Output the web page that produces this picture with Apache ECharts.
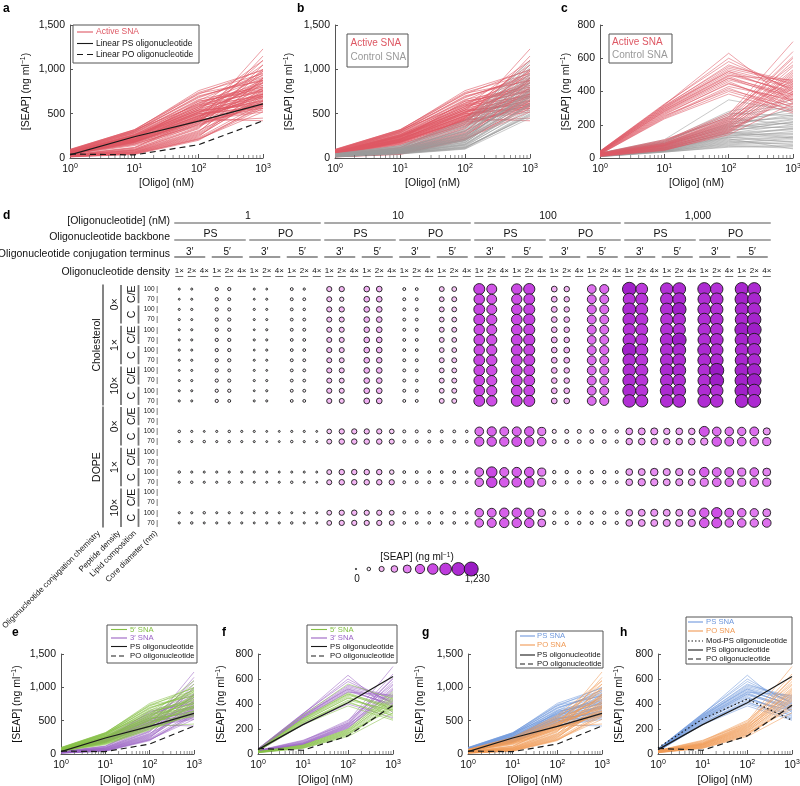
<!DOCTYPE html>
<html>
<head>
<meta charset="utf-8">
<script src="https://cdn.jsdelivr.net/npm/echarts@6/dist/echarts.min.js"></script>
<style>
  html, body { margin: 0; padding: 0; background: #fff; }
  #chart { width: 800px; height: 786px; }
</style>
</head>
<body>
<div id="chart"></div>
<script>
const FONT = '"Liberation Sans", Arial, sans-serif'

// x positions of every curve (nM)
const concentrations = [1, 10, 100, 1000]

// experiment 1, active SNAs: [1, 10, 100, 1000 nM] -> SEAP (ng/ml)
const ps5Lines1 = [
  [62,255,560,720],[70,270,610,850],[85,300,680,930],[58,240,520,640],[90,310,760,990],
  [75,285,640,780],[66,262,590,700],[80,295,700,880],[95,320,720,1000],[60,248,540,600],
  [72,278,620,820],[88,305,690,910],[68,265,575,760],[78,290,650,960],[55,235,500,560],
  [84,300,730,870],[92,315,600,750],[64,258,540,690],[74,282,660,800],[98,318,740,950]
]
const ps3Lines1 = [
  [42,185,430,560],[55,210,480,650],[48,200,520,720],[65,240,600,800],[38,175,420,520],
  [52,220,470,610],[60,230,560,880],[45,195,450,590],[58,250,510,700],[50,205,640,760],
  [40,180,440,420],[62,245,580,840],[47,215,490,680],[56,225,530,620],[44,190,460,740],
  [68,260,620,900],[53,212,500,580],[49,202,475,660],[59,238,545,780],[41,188,425,540]
]
const po5Lines1 = [
  [45,150,380,600],[55,180,430,720],[62,210,500,850],[48,170,400,650],[70,240,560,980],
  [52,165,410,450],[58,200,470,780],[66,230,540,1050],[42,140,360,620],[60,190,450,700],
  [50,175,420,900],[64,220,520,820],[46,155,390,580],[68,250,580,1100],[54,185,440,760],
  [57,195,480,680],[63,215,510,940],[49,160,370,640],[61,205,460,870],[53,178,430,730]
]
const po3Lines1 = [
  [15,45,210,560],[22,60,250,700],[30,80,300,850],[18,55,230,620],[35,100,350,980],
  [25,70,280,760],[12,40,200,600],[28,90,330,1050],[20,65,260,680],[38,120,420,1230],
  [16,50,220,580],[32,95,380,1150],[24,75,290,900],[27,85,310,640],[19,58,240,800],
  [34,110,400,1000],[14,48,215,520],[29,88,340,880],[23,68,270,720],[36,115,450,1100]
]
const controlLines1 = [
  [20,60,150,600],[30,80,200,750],[15,55,120,480],[40,110,300,900],[25,70,180,650],
  [35,95,260,820],[18,50,110,520],[45,130,380,1050],[22,65,170,700],[28,85,220,780],
  [12,45,100,450],[38,105,320,950],[32,90,240,860],[26,75,190,680],[42,120,350,1000],
  [16,58,130,560],[24,68,160,620],[36,100,280,880],[30,88,230,740],[48,140,420,1100],
  [20,62,145,590],[34,92,250,800],[14,52,115,500],[40,115,310,930],[27,78,200,710],
  [33,98,270,840],[19,60,140,540],[44,125,360,1020],[23,72,175,660],[29,82,210,770],
  [17,54,125,470],[37,102,300,910],[31,86,235,720],[25,76,195,690],[46,135,400,1080],
  [21,64,155,610],[35,96,265,850],[13,48,105,490],[39,112,330,960],[28,80,215,760]
]
const psOligo1 = [35, 240, 415, 610]
const poOligo1 = [45, 35, 150, 420]

// experiment 2
const ps5Lines2 = [
  [30,280,480,380],[25,250,430,350],[28,270,460,300],[38,310,560,440],[30,285,490,360],[27,260,450,320],
  [31,275,470,370],[24,245,420,280],[29,265,445,340],[26,255,410,310],[32,280,480,350],[23,235,385,270]
]
const ps3Lines2 = [
  [35,300,520,420],[40,320,630,330],[33,290,500,400],[22,240,400,290],[36,305,540,450],[42,325,580,410],
  [34,295,510,390],[39,315,550,460],[37,300,530,430],[41,320,600,400],[35,290,495,470],[38,310,520,380]
]
const po5Lines2 = [
  [15,60,180,450],[10,45,150,380],[18,65,190,480],[12,50,160,400],[16,62,175,430],[14,55,170,360],
  [19,70,200,500],[11,48,140,330],[17,68,185,440],[13,52,155,390],[18,72,195,460],[15,58,165,420]
]
const po3Lines2 = [
  [20,75,210,520],[25,90,240,600],[22,80,220,550],[28,100,260,700],[24,85,230,580],[26,95,250,640],
  [21,78,215,470],[27,105,270,560],[23,82,225,530],[29,110,245,610],[20,76,205,510],[25,88,235,490]
]
const controlLines2 = [
  [10,40,90,120],[15,55,130,180],[20,70,160,220],[12,45,100,80],[25,85,200,260],
  [18,60,140,150],[8,35,70,60],[22,80,180,300],[14,50,120,140],[28,100,280,350],
  [16,58,150,200],[11,42,85,100],[24,90,220,240],[19,65,170,190],[9,38,75,70],
  [26,95,250,310],[13,48,110,130],[21,75,190,210],[17,62,145,170],[30,110,350,280],
  [12,44,95,110],[23,82,205,250],[15,54,125,160],[27,98,260,330],[10,40,80,90],
  [20,72,175,230],[18,64,155,120],[25,88,230,270],[14,50,115,55],[22,78,195,180],
  [16,56,135,145],[29,105,240,200],[11,46,105,125],[24,86,210,290],[19,68,165,215],
  [13,52,125,95],[26,92,270,255],[17,60,150,175],[21,74,185,235],[9,36,65,75]
]
const psOligo2 = [35, 235, 410, 620]
const poOligo2 = [45, 30, 145, 390]
const modPsOligo2 = [50, 280, 440, 270]

// panel d: column / row hierarchy
const concLabels = ['1', '10', '100', '1,000']
const backbones = ['PS', 'PO']
const termini = ['3′', '5′']
const densities = ['1×', '2×', '4×']
const lipids = ['Cholesterol', 'DOPE']
const peptideDensities = ['0×', '1×', '10×']
const chemistries = ['C/E', 'C']
const coreSizes = ['100', '70']
const rowLevelNames = ['Oligonucleotide conjugation chemistry', 'Peptide density', 'Lipid composition', 'Core diameter (nm)']

// cholesterol rows: per concentration PS3'(1x,2x) PS5'(1x,2x) PO3'(1x,2x) PO5'(1x,2x)
const cholRows = [
  [30,30,110,110,30,20,85,45, 270,280,320,320,90,80,250,240, 880,760,820,900,330,300,620,660, 1180,960,1050,1080,1100,1040,1120,1100],
  [20,30,110,90,20,30,85,80, 260,200,320,320,90,80,240,250, 820,740,800,860,330,300,640,640, 1000,1000,1040,1100,1060,1060,1160,1130],
  [30,40,110,100,35,30,80,60, 270,280,320,320,85,80,250,240, 860,760,820,880,340,300,660,650, 1100,980,1060,1180,1080,1040,1120,1110],
  [35,30,110,110,30,30,80,80, 260,260,320,320,85,80,240,240, 860,780,840,900,330,320,640,640, 1060,1000,1020,1060,1070,1070,1110,1150],
  [30,35,110,110,20,35,85,85, 260,260,310,320,85,85,250,250, 820,760,840,880,320,310,650,640, 1020,980,1040,1040,1060,1060,1200,1200],
  [30,35,110,110,35,35,80,80, 260,260,320,320,85,85,250,240, 840,780,860,900,340,310,620,640, 1040,980,1080,1200,1060,1080,1140,1130],
  [35,30,110,110,20,35,80,80, 270,260,320,320,85,80,240,240, 820,780,860,880,320,330,640,660, 1180,1000,1060,1100,1100,1060,1100,1120],
  [30,35,110,110,30,30,85,80, 260,250,320,310,85,85,250,250, 860,800,860,880,330,330,640,650, 1060,980,1060,1080,1080,1080,1120,1100],
  [20,30,110,90,30,20,80,80, 270,260,320,320,85,80,240,240, 840,800,860,860,330,310,640,660, 1060,1000,1100,1100,1060,1230,1160,1160],
  [30,35,110,100,35,35,80,75, 260,250,320,320,85,70,250,250, 840,780,860,860,320,310,650,650, 1080,1000,1060,1060,1060,1200,1160,1200],
  [30,30,110,110,20,35,85,80, 270,260,320,320,85,85,240,250, 840,780,840,860,330,320,640,650, 1100,1000,1100,1080,1080,1050,1180,1120],
  [35,30,110,90,30,35,80,80, 270,260,330,320,85,85,250,250, 860,800,860,880,330,320,640,660, 1060,1000,1060,1080,1080,1060,1100,1100]
]
// DOPE rows (C only) for peptide 0x/1x/10x and core 100/70, all 48 columns
const dopeRows = [
  [60,35,20,35,55,35,35,20,20,35,35,20, 230,280,280,280,280,230, 90,90,80,80,80,60, 620,680,640,660,700,560, 180,170,170,160,150,120, 420,440,450,380,420,400, 760,620,600,580,640,460],
  [35,35,55,35,55,35,30,20,20,55,35,30, 250,300,300,300,300,260, 90,80,80,80,80,60, 680,700,680,740,700,620, 170,170,150,150,150,110, 400,420,420,380,400,420, 480,700,640,620,600,560],
  [55,35,30,35,35,35,35,35,25,30,30,25, 250,300,300,300,300,220, 80,80,75,75,80,55, 620,820,660,700,720,560, 120,120,110,120,120,90, 420,440,500,460,480,400, 700,640,640,560,620,540],
  [35,55,35,35,45,35,30,25,30,55,30,20, 260,300,300,300,300,280, 80,80,80,80,80,60, 600,820,720,720,740,560, 120,110,110,110,110,80, 420,480,480,440,460,440, 560,620,600,560,600,560],
  [35,35,55,30,35,35,30,35,30,30,25,30, 240,280,300,280,280,240, 75,75,70,70,70,60, 600,640,700,700,680,520, 110,110,110,110,110,100, 420,440,460,440,440,500, 700,800,640,600,580,540],
  [35,55,30,35,35,35,25,35,35,55,35,30, 240,280,280,280,280,250, 75,70,70,70,70,60, 600,660,700,700,700,540, 120,120,120,110,110,110, 420,440,440,460,460,480, 720,760,600,600,580,620]
]
const seapLegend = [0, 137, 273, 410, 547, 683, 820, 957, 1093, 1230]
const seapColors = ['#ffffff', '#fcf0fc', '#f4baf4', '#eda0f3', '#e380f0', '#d862eb', '#cb4ae4', '#bd3adc', '#ad2bd2', '#9a1cc4']

// colours
const RED = '#de5864', GREY = '#9a9a9a', GREEN = '#86c046', PURPLE = '#9b63c4', BLUE = '#6f98dc', ORANGE = '#f09a55'

const fmt = v => v.toLocaleString('en-US')
const bubbleSize = v => 1.4 + 12.6 * Math.pow(v / 1230, 0.8)

// ---------- line panels ----------
const lineGrids = [
  { left: 70, top: 25, width: 193, height: 133, ymax: 1500, nameGap: 37, xGap: 20 },
  { left: 335, top: 25, width: 195, height: 133, ymax: 1500, nameGap: 39, xGap: 20 },
  { left: 600, top: 25, width: 193, height: 133, ymax: 800, nameGap: 27, xGap: 20 },
  { left: 61, top: 654, width: 133, height: 100, ymax: 1500, nameGap: 37, xGap: 21 },
  { left: 258, top: 654, width: 135, height: 100, ymax: 800, nameGap: 30, xGap: 21 },
  { left: 468, top: 654, width: 134, height: 100, ymax: 1500, nameGap: 41, xGap: 21 },
  { left: 658, top: 654, width: 134, height: 100, ymax: 800, nameGap: 32, xGap: 21 }
]
const minorTicks = [2,3,4,5,6,7,8,9,20,30,40,50,60,70,80,90,200,300,400,500,600,700,800,900]

const grids = [], xAxes = [], yAxes = [], series = []

lineGrids.forEach((p, gi) => {
  grids.push({ left: p.left, top: p.top, width: p.width, height: p.height, outerBoundsMode: 'none' })
  xAxes.push({
    gridIndex: gi, type: 'log', logBase: 10, min: 1, max: 1000,
    name: '[Oligo] (nM)', nameLocation: 'middle', nameGap: p.xGap,
    nameTextStyle: { fontSize: 10.5, color: '#111', fontFamily: FONT },
    axisLine: { lineStyle: { color: '#555', width: 1 } },
    axisTick: { inside: true, length: 4, lineStyle: { color: '#555' } },
    splitLine: { show: false },
    axisLabel: {
      margin: 5, color: '#111', fontFamily: FONT, showMinLabel: true, showMaxLabel: true,
      formatter: v => '{b|10}{e|' + Math.round(Math.log10(v)) + '}',
      rich: {
        b: { fontSize: 10.5, fontFamily: FONT, color: '#111', lineHeight: 13 },
        e: { fontSize: 7, fontFamily: FONT, color: '#111', verticalAlign: 'top' }
      }
    }
  })
  yAxes.push({
    gridIndex: gi, type: 'value', min: 0, max: p.ymax, interval: p.ymax === 800 ? 200 : 500,
    name: '[SEAP] (ng ml{s|−1})', nameLocation: 'middle', nameRotate: 90, nameGap: p.nameGap,
    nameTextStyle: { fontSize: 10.5, color: '#111', fontFamily: FONT, lineHeight: 13,
      rich: { s: { fontSize: 7, fontFamily: FONT, color: '#111', verticalAlign: 'top' } } },
    axisLine: { show: true, lineStyle: { color: '#555', width: 1 } },
    axisTick: { show: true, inside: true, length: 3, lineStyle: { color: '#555' } },
    splitLine: { show: false },
    axisLabel: { margin: 5, fontSize: 10.5, color: '#111', fontFamily: FONT, formatter: v => fmt(v) }
  })
  series.push({
    type: 'scatter', xAxisIndex: gi, yAxisIndex: gi, silent: true, animation: false, clip: false, z: 3,
    data: minorTicks.map(t => [t, 0]), symbol: 'rect', symbolSize: [0.8, 3], symbolOffset: [0, -1.5],
    itemStyle: { color: '#555' }
  })
})

function linesSeries (gi, lines, color, opacity) {
  return {
    type: 'lines', coordinateSystem: 'cartesian2d', xAxisIndex: gi, yAxisIndex: gi,
    polyline: true, silent: true, animation: false, z: 2,
    lineStyle: { color, opacity, width: 0.9 },
    data: lines.map(v => ({ coords: concentrations.map((c, i) => [c, v[i]]) }))
  }
}
function oligoSeries (gi, vals, type) {
  return {
    type: 'line', xAxisIndex: gi, yAxisIndex: gi, silent: true, animation: false, z: 5,
    symbol: 'none', data: concentrations.map((c, i) => [c, vals[i]]),
    lineStyle: { color: '#1a1a1a', width: 1.2, type }
  }
}
const active1 = [...ps5Lines1, ...ps3Lines1, ...po5Lines1, ...po3Lines1]
const active2 = [...ps5Lines2, ...ps3Lines2, ...po5Lines2, ...po3Lines2]

// a
series.push(linesSeries(0, active1, RED, 0.65), oligoSeries(0, psOligo1, 'solid'), oligoSeries(0, poOligo1, [6, 4]))
// b
series.push(linesSeries(1, active1, RED, 0.65), linesSeries(1, controlLines1, GREY, 0.6))
// c
series.push(linesSeries(2, controlLines2, GREY, 0.6), linesSeries(2, active2, RED, 0.6))
// e
series.push(linesSeries(3, [...ps3Lines1, ...po3Lines1], PURPLE, 0.6), linesSeries(3, [...ps5Lines1, ...po5Lines1], GREEN, 0.6),
  oligoSeries(3, psOligo1, 'solid'), oligoSeries(3, poOligo1, [6, 4]))
// f
series.push(linesSeries(4, [...ps3Lines2, ...po3Lines2], PURPLE, 0.6), linesSeries(4, [...ps5Lines2, ...po5Lines2], GREEN, 0.6),
  oligoSeries(4, psOligo2, 'solid'), oligoSeries(4, poOligo2, [6, 4]))
// g
series.push(linesSeries(5, [...ps5Lines1, ...ps3Lines1], BLUE, 0.6), linesSeries(5, [...po5Lines1, ...po3Lines1], ORANGE, 0.6),
  oligoSeries(5, psOligo1, 'solid'), oligoSeries(5, poOligo1, [6, 4]))
// h
series.push(linesSeries(6, [...ps5Lines2, ...ps3Lines2], BLUE, 0.6), linesSeries(6, [...po5Lines2, ...po3Lines2], ORANGE, 0.6),
  oligoSeries(6, modPsOligo2, [1.5, 2.5]), oligoSeries(6, psOligo2, 'solid'), oligoSeries(6, poOligo2, [6, 4]))

// ---------- panel d bubble matrix ----------
const dLeft = 173, dTop = 284, dColW = 12.5, dRowH = 244 / 24
const colX = i => dLeft + dColW * (i + 0.5)
const rowY = r => dTop + dRowH * (r + 0.5)

const colNames = [], rowNames = []
concLabels.forEach(c => backbones.forEach(b => termini.forEach(t => densities.forEach(d => colNames.push([c, b, t, d].join('|'))))))
lipids.forEach(l => peptideDensities.forEach(p => chemistries.forEach(ch => coreSizes.forEach(s => rowNames.push([l, p, ch, s].join('|'))))))

const bubbleData = []
cholRows.forEach((vals, r) => {
  vals.forEach((v, k) => {
    const block = Math.floor(k / 2), di = k % 2
    bubbleData.push([block * 3 + di, r, v])
  })
})
dopeRows.forEach((vals, j) => {
  const r = 12 + Math.floor(j / 2) * 4 + 2 + (j % 2)
  vals.forEach((v, c) => bubbleData.push([c, r, v]))
})
bubbleData.sort((p, q) => p[1] - q[1])

const bubbleGrid = grids.length
grids.push({ left: dLeft, top: dTop, width: dColW * 48, height: dRowH * 24, outerBoundsMode: 'none' })
xAxes.push({
  gridIndex: bubbleGrid, type: 'category', position: 'top', data: colNames,
  axisLine: { show: false }, axisTick: { show: false }, splitLine: { show: false },
  axisLabel: { interval: 0, margin: 9, fontSize: 8, color: '#111', fontFamily: FONT, formatter: (v, i) => densities[i % 3] }
})
yAxes.push({
  gridIndex: bubbleGrid, type: 'category', inverse: true, data: rowNames,
  axisLine: { show: false }, axisTick: { show: false }, splitLine: { show: false },
  axisLabel: { interval: 0, margin: 15, fontSize: 6.5, color: '#111', fontFamily: FONT, formatter: (v, i) => coreSizes[i % 2] + ' |' }
})
const bubbleIdx = series.length
series.push({
  type: 'scatter', xAxisIndex: bubbleGrid, yAxisIndex: bubbleGrid, silent: true, animation: false,
  data: bubbleData, symbolSize: d => bubbleSize(d[2]),
  itemStyle: { borderColor: '#1a1a1a', borderWidth: 0.9, opacity: 1 }
})

// size legend
const lgGrid = grids.length
const lgLeft = 349.6, lgStep = 12.8
grids.push({ left: lgLeft, top: 564, width: lgStep * seapLegend.length, height: 10, outerBoundsMode: 'none' })
xAxes.push({ gridIndex: lgGrid, type: 'value', min: -0.5, max: seapLegend.length - 0.5, show: false })
yAxes.push({ gridIndex: lgGrid, type: 'value', min: -1, max: 1, show: false })
const legendIdx = series.length
series.push({
  type: 'scatter', xAxisIndex: lgGrid, yAxisIndex: lgGrid, silent: true, animation: false,
  data: seapLegend.map((v, k) => [k, 0, v]), symbolSize: d => bubbleSize(d[2]),
  itemStyle: { borderColor: '#1a1a1a', borderWidth: 0.9, opacity: 1 }
})

// ---------- graphic: letters, legends, headers ----------
const g = []
function txt (x, y, text, size, o = {}) {
  const el = {
    type: 'text', x, y, rotation: o.rot || 0, silent: true, z: 100,
    style: { text, fontSize: size, fontFamily: FONT, fill: o.color || '#111', align: o.align || 'center',
      verticalAlign: o.va || 'middle', fontWeight: o.weight || 'normal' }
  }
  if (o.rich) el.style.rich = o.rich
  return el
}
function seg (x1, y1, x2, y2, color, width, dash) {
  return { type: 'line', silent: true, z: 100, shape: { x1, y1, x2, y2 }, style: { stroke: color, lineWidth: width, lineDash: dash || null } }
}
function box (x, y, w, h) {
  return { type: 'rect', silent: true, z: 99, shape: { x, y, width: w, height: h }, style: { fill: '#fff', stroke: '#555', lineWidth: 1 } }
}
function legend (b, items, lineX, textX, fs) {
  g.push(box(...b))
  items.forEach(it => {
    if (lineX) g.push(seg(lineX[0], it.y, lineX[1], it.y, it.line, 1.1, it.dash))
    g.push(txt(textX, it.y, it.label, fs, { align: 'left', color: it.color }))
  })
}

const lettersPos = [['a', 3, 3], ['b', 297, 3], ['c', 561, 3], ['d', 3, 210], ['e', 12, 627], ['f', 222, 627], ['g', 422, 627], ['h', 620, 627]]
lettersPos.forEach(([t, x, y]) => g.push(txt(x, y, t, 12, { align: 'left', va: 'top', weight: 'bold', color: '#000' })))

legend([73, 25, 126, 38], [
  { label: 'Active SNA', y: 32, color: RED, line: RED },
  { label: 'Linear PS oligonucleotide', y: 43.5, color: '#111', line: '#1a1a1a' },
  { label: 'Linear PO oligonucleotide', y: 54.5, color: '#111', line: '#1a1a1a', dash: [6, 4] }
], [77, 93], 96, 8.5)
legend([347, 34, 61, 33], [
  { label: 'Active SNA', y: 43.5, color: RED }, { label: 'Control SNA', y: 57, color: GREY }
], null, 350.5, 10)
legend([609, 34, 63, 29], [
  { label: 'Active SNA', y: 42.7, color: RED }, { label: 'Control SNA', y: 55, color: GREY }
], null, 612, 10)
;[[107, 111, 130], [307, 311, 330]].forEach(([bx, lx, tx]) => {
  legend([bx, 625, 90, 38], [
    { label: '5′ SNA', y: 629.5, color: GREEN, line: GREEN },
    { label: '3′ SNA', y: 638, color: PURPLE, line: PURPLE },
    { label: 'PS oligonucleotide', y: 646.5, color: '#111', line: '#1a1a1a' },
    { label: 'PO oligonucleotide', y: 656, color: '#111', line: '#1a1a1a', dash: [5, 3] }
  ], [lx, lx + 16], tx, 7.7)
})
legend([516, 631, 87, 37], [
  { label: 'PS SNA', y: 636, color: BLUE, line: BLUE },
  { label: 'PO SNA', y: 645, color: ORANGE, line: ORANGE },
  { label: 'PS oligonucleotide', y: 655, color: '#111', line: '#1a1a1a' },
  { label: 'PO oligonucleotide', y: 664, color: '#111', line: '#1a1a1a', dash: [5, 3] }
], [520, 535], 537, 7.7)
legend([686, 617, 106, 47], [
  { label: 'PS SNA', y: 622, color: BLUE, line: BLUE },
  { label: 'PO SNA', y: 631, color: ORANGE, line: ORANGE },
  { label: 'Mod-PS oligonucleotide', y: 641, color: '#111', line: '#1a1a1a', dash: [1.5, 2] },
  { label: 'PS oligonucleotide', y: 650, color: '#111', line: '#1a1a1a' },
  { label: 'PO oligonucleotide', y: 659, color: '#111', line: '#1a1a1a', dash: [5, 3] }
], [688, 703], 706, 7.7)

// column header hierarchy
const hdrX = 170
g.push(txt(hdrX, 221, '[Oligonucleotide] (nM)', 10.5, { align: 'right' }))
g.push(txt(hdrX, 237, 'Oligonucleotide backbone', 10.5, { align: 'right' }))
g.push(txt(hdrX, 254, 'Oligonucleotide conjugation terminus', 10.5, { align: 'right' }))
g.push(txt(hdrX, 272, 'Oligonucleotide density', 10.5, { align: 'right' }))
concLabels.forEach((lab, ci) => {
  const c0 = ci * 12, c1 = c0 + 11
  g.push(txt((colX(c0) + colX(c1)) / 2, 216, lab, 10.5))
  g.push(seg(colX(c0) - 5, 223, colX(c1) + 4, 223, '#555', 1.2))
  backbones.forEach((bb, bi) => {
    const b0 = c0 + bi * 6, b1 = b0 + 5
    g.push(txt((colX(b0) + colX(b1)) / 2, 234, bb, 10.5))
    g.push(seg(colX(b0) - 5, 240, colX(b1) + 4, 240, '#555', 1.2))
    termini.forEach((tt, ti) => {
      const t0 = b0 + ti * 3, t1 = t0 + 2
      g.push(txt((colX(t0) + colX(t1)) / 2 - 2, 252, tt, 10))
      g.push(seg(colX(t0) - 5, 257, colX(t1) + 1, 257, '#555', 1.2))
      densities.forEach((d, di) => g.push(seg(colX(t0 + di) - 4, 276.5, colX(t0 + di) + 4, 276.5, '#444', 0.8)))
    })
  })
})

// row header hierarchy
const rot = Math.PI / 2
lipids.forEach((lp, li) => {
  const r0 = li * 12, r1 = r0 + 11
  g.push(txt(97, (rowY(r0) + rowY(r1)) / 2, lp, 10.5, { rot }))
  g.push(seg(103, rowY(r0) - 4.5, 103, rowY(r1) + 4.5, '#777', 1.8))
  peptideDensities.forEach((pd, pi) => {
    const p0 = r0 + pi * 4, p1 = p0 + 3
    g.push(txt(115, (rowY(p0) + rowY(p1)) / 2, pd, 10.5, { rot }))
    g.push(seg(121, rowY(p0) - 4, 121, rowY(p1) + 4, '#777', 1.8))
    chemistries.forEach((ch, chi) => {
      const q0 = p0 + chi * 2, q1 = q0 + 1
      g.push(txt(132, (rowY(q0) + rowY(q1)) / 2, ch, 10.5, { rot }))
      g.push(seg(138.5, rowY(q0) - 4, 138.5, rowY(q1) + 4, '#777', 1.8))
    })
  })
})
const levelEnds = [[99, 532], [119, 532], [135, 532], [156, 532]]
rowLevelNames.forEach((name, k) => g.push(txt(levelEnds[k][0], levelEnds[k][1], name, 8, { align: 'right', rot: Math.PI / 4 })))

// size legend text
g.push(txt(417, 557, '[SEAP] (ng ml{s|−1})', 10, { rich: { s: { fontSize: 6.5, fontFamily: FONT, fill: '#111', verticalAlign: 'top' } } }))
g.push(txt(lgLeft + lgStep * 0.5 + 1, 579, fmt(seapLegend[0]), 10))
g.push(txt(lgLeft + lgStep * (seapLegend.length - 0.5) + 6, 579, fmt(seapLegend[seapLegend.length - 1]), 10))

const chart = echarts.init(document.getElementById('chart'), null, { renderer: 'canvas' })
chart.setOption({
  animation: false,
  backgroundColor: '#fff',
  textStyle: { fontFamily: FONT },
  grid: grids,
  xAxis: xAxes,
  yAxis: yAxes,
  visualMap: [{
    type: 'continuous', show: false, dimension: 2, min: 0, max: 1230,
    seriesIndex: [bubbleIdx, legendIdx], inRange: { color: seapColors }
  }],
  series,
  graphic: { elements: g }
})
</script>
</body>
</html>
